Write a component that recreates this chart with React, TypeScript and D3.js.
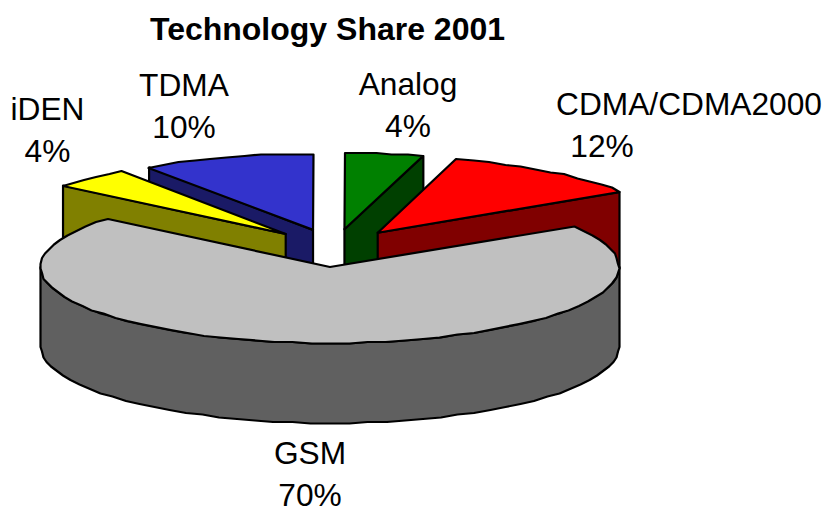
import React from "react";
import * as d3 from "d3";

const categories = ["Analog", "CDMA/CDMA2000", "GSM", "iDEN", "TDMA"];
const shareValues = [4.4, 11.6, 70, 4.4, 9.6];
const shareLabels = ["4%", "12%", "70%", "4%", "10%"];
const topColors = ["#008000", "#ff0000", "#c0c0c0", "#ffff00", "#3333cc"];
const sideColors = ["#004000", "#800000", "#606060", "#808000", "#1a1a66"];
const title = "Technology Share 2001";

const W = 827, H = 509;
const CX = 334.5, CY = 248, RX = 289, RY = 76, DEPTH = 80, EXPLODE = 0.25;
const XMAX = 619.5;
const FONT = "'Liberation Sans', Arial, sans-serif";
const FS = 31.7;

// label anchor positions, same order as categories
const labelX = [408, 689, 310, 47.5, 184];
const labelY = [95, 115, 464, 120, 96];
const LINE = 41.5;

const pie = d3.pie<number>().sort(null).startAngle(0).endAngle(2 * Math.PI);
const arcs = pie(shareValues);

// ellipse projection via linear scales on the unit circle
const sx = d3.scaleLinear().domain([-1, 1]).range([-RX, RX]);
const sy = d3.scaleLinear().domain([-1, 1]).range([RY, -RY]);

type P = [number, number];
const line = d3.line<P>().x(d => d[0]).y(d => d[1]);

function arcPts(ox: number, oy: number, a0: number, a1: number): P[] {
  const n = Math.max(2, Math.ceil((a1 - a0) / (Math.PI / 48)));
  return d3.range(n + 1).map(i => {
    const a = a0 + ((a1 - a0) * i) / n;
    return [
      Math.min(XMAX, Math.round((ox + sx(Math.sin(a))) / 1.5) * 1.5),
      Math.round((oy + sy(Math.cos(a))) / 1.5) * 1.5,
    ] as P;
  });
}

const sliceGeo = arcs.map(d => {
  const mid = (d.startAngle + d.endAngle) / 2;
  const ox = CX + EXPLODE * sx(Math.sin(mid));
  const oy = CY + EXPLODE * sy(Math.cos(mid));
  return { ox, oy, a0: d.startAngle, a1: d.endAngle };
});

const stroke = { stroke: "#000", strokeWidth: 2.2, strokeLinejoin: "round" as const };

function wall(i: number): string {
  const g = sliceGeo[i];
  // outer curved wall: only the front half of the ellipse is visible
  const a0 = Math.max(g.a0, Math.PI / 2);
  const a1 = Math.min(g.a1, (3 * Math.PI) / 2);
  if (a1 <= a0) return "";
  const top = arcPts(g.ox, g.oy, a0, a1);
  const bot = top.map(p => [p[0], p[1] + DEPTH] as P).reverse();
  return line([...top, ...bot])! + "Z";
}

function edgeWall(i: number, a: number): string {
  const g = sliceGeo[i];
  const e: P = [Math.min(XMAX, g.ox + sx(Math.sin(a))), g.oy + sy(Math.cos(a))];
  const c: P = [g.ox, g.oy];
  return line([c, e, [e[0], e[1] + DEPTH - 4], [c[0], c[1] + DEPTH]])! + "Z";
}

function top(i: number): string {
  const g = sliceGeo[i];
  return line([[g.ox, g.oy], ...arcPts(g.ox, g.oy, g.a0, g.a1)])! + "Z";
}

// slices back to front, with the cut face that shows for each
const drawOrder = [
  { i: 0, edge: 1 },
  { i: 4, edge: 0 },
  { i: 1, edge: 1 },
  { i: 3, edge: 0 },
  { i: 2, edge: -1 },
];

export default function App() {
  return (
    <svg width={W} height={H} viewBox={`0 0 ${W} ${H}`}
      style={{ position: "absolute", left: 0, top: 0, background: "#fff" }}>
      {drawOrder.map(({ i, edge }) => {
        const g = sliceGeo[i];
        return (
          <g key={categories[i]}>
            {edge >= 0 ? (
              <path d={edgeWall(i, edge === 1 ? g.a1 : g.a0)} fill={sideColors[i]} {...stroke} />
            ) : (
              <path d={wall(i)} fill={sideColors[i]} {...stroke} />
            )}
            <path d={top(i)} fill={topColors[i]} {...stroke} />
          </g>
        );
      })}
      <text x={327.5} y={39.5} textAnchor="middle" fontFamily={FONT} fontWeight="bold" fontSize={32} fill="#000">
        {title}
      </text>
      {categories.map((c, i) => (
        <text key={c} textAnchor="middle" fontFamily={FONT} fontSize={FS} fill="#000">
          <tspan x={labelX[i]} y={labelY[i]}>{c}</tspan>
          <tspan x={labelX[i] - (i === 1 ? 87 : 0)} y={labelY[i] + LINE}>{shareLabels[i]}</tspan>
        </text>
      ))}
    </svg>
  );
}
